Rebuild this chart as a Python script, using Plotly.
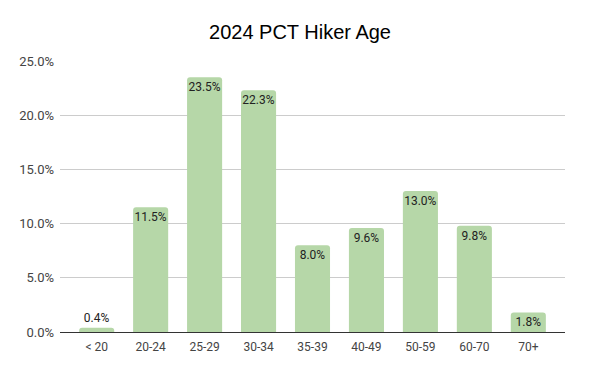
import plotly.graph_objects as go

categories = ["< 20", "20-24", "25-29", "30-34", "35-39", "40-49", "50-59", "60-70", "70+"]
values = [0.004, 0.115, 0.235, 0.223, 0.080, 0.096, 0.130, 0.098, 0.018]
labels = ["0.4%", "11.5%", "23.5%", "22.3%", "8.0%", "9.6%", "13.0%", "9.8%", "1.8%"]
positions = ["outside" if v < 0.01 else "inside" for v in values]

fig = go.Figure(go.Bar(
    x=categories, y=values, text=labels, textposition=positions,
    insidetextanchor="end", constraintext="none", textangle=0,
    marker=dict(color="#b6d7a8", line=dict(width=0)),
    textfont=dict(family="Roboto", size=12, color="#222222"),
    width=0.65, cliponaxis=False,
))
fig.update_layout(
    width=600, height=371,
    margin=dict(l=60, r=35, t=61, b=39),
    paper_bgcolor="white", plot_bgcolor="white",
    barcornerradius=3,
    title=dict(text="2024 PCT Hiker Age", x=0.5, xanchor="center", y=0.915, yanchor="middle",
               font=dict(family="Liberation Sans, Arial", size=20, color="#000000")),
    showlegend=False,
    xaxis=dict(range=[-0.68, 8.68], showgrid=False, showline=True, linecolor="#333333", linewidth=1,
               ticks="", ticklabelstandoff=4,
               tickfont=dict(family="Roboto", size=12, color="#444444")),
    yaxis=dict(range=[0, 0.25], dtick=0.05, tickformat=".1%", showgrid=True, gridcolor="#cccccc",
               zeroline=False, showline=False, ticks="", ticklen=0, ticklabelstandoff=5,
               tickfont=dict(family="Roboto", size=13, color="#444444")),
)
fig.write_html("out.html")
